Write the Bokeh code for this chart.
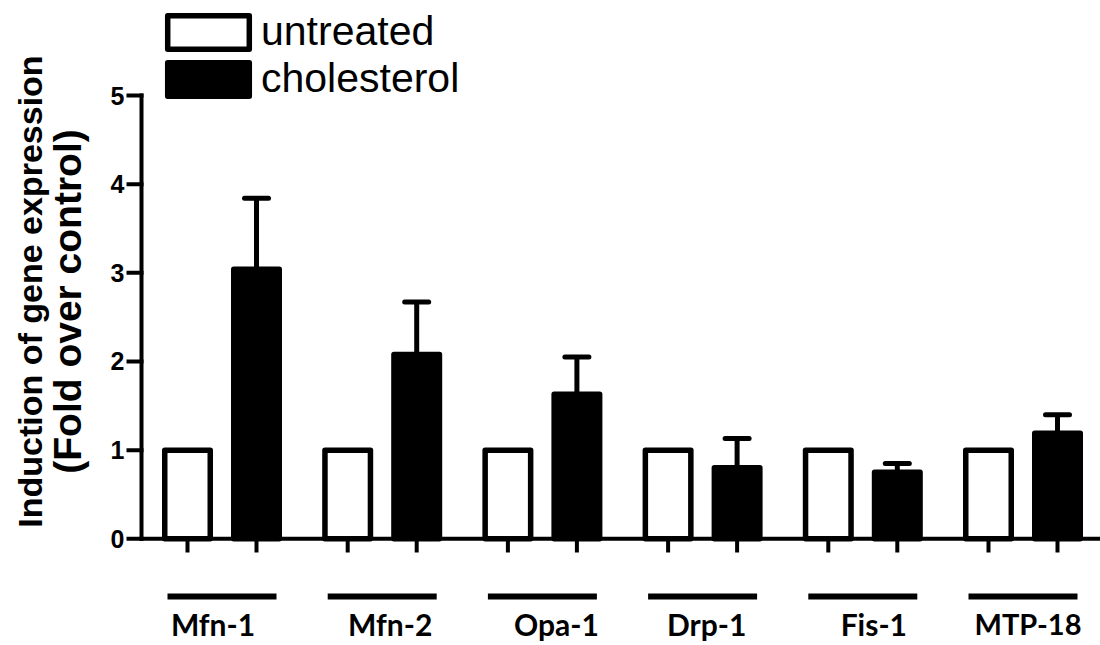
import numpy as np
from bokeh.plotting import figure
from bokeh.models import Range1d, ColumnDataSource, Legend, LegendItem
from bokeh.core.properties import value
from bokeh.embed import file_html
from bokeh.resources import INLINE

# ---------------- data ----------------
genes = ["Mfn-1", "Mfn-2", "Opa-1", "Drp-1", "Fis-1", "MTP-18"]
untreated = [1.0, 1.0, 1.0, 1.0, 1.0, 1.0]
cholesterol = [3.04, 2.08, 1.63, 0.80, 0.75, 1.19]
cholesterol_err = [0.80, 0.59, 0.42, 0.33, 0.10, 0.21]
series_names = ["untreated", "cholesterol"]
y_ticks = [0, 1, 2, 3, 4, 5]
y_tick_labels = ["0", "1", "2", "3", "4", "5"]
y_title = ["Induction of gene expression", "(Fold over control)"]

# ---------------- layout (reference pixel geometry) ----------------
W, H = 1100, 645
GX0, GDX = 221.5, 160.2      # px of first group centre, px per group
Y0, YDY = 538.3, 88.66       # px of value 0, px per unit


def X(px):
    return (px - GX0) / GDX


def Y(py):
    return (Y0 - py) / YDY


p = figure(width=W, height=H, x_range=Range1d(X(0), X(W)),
           y_range=Range1d(Y(H), Y(0)),
           x_axis_type=None, y_axis_type=None,
           output_backend="svg", toolbar_location=None, min_border=0)
p.grid.visible = False
p.outline_line_color = None
p.background_fill_color = "white"

n = len(genes)
gx = np.arange(n, dtype=float)
OFF = 34.5 / GDX
BW = 45.5 / GDX
CAP = 12.0 / GDX
chol = np.array(cholesterol)
hi = chol + np.array(cholesterol_err)

src = ColumnDataSource(dict(
    x_u=gx - OFF, x_c=gx + OFF, u=untreated, c=cholesterol, hi=hi,
    cap0=gx + OFF - CAP, cap1=gx + OFF + CAP,
))

LW = 5.5
# error bars (upper only)
p.segment(x0="x_c", y0="c", x1="x_c", y1="hi", source=src,
          line_color="black", line_width=5)
p.segment(x0="cap0", y0="hi", x1="cap1", y1="hi", source=src,
          line_color="black", line_width=5, line_cap="round")

r_u = p.vbar(x="x_u", top="u", bottom=0, width=BW, source=src,
             fill_color="white", line_color="black", line_width=LW,
             line_join="round")
r_c = p.vbar(x="x_c", top="c", bottom=0, width=BW, source=src,
             fill_color="black", line_color="black", line_width=LW,
             line_join="round")

# ---------------- y axis ----------------
AX = X(141)
p.segment(x0=[AX], y0=[min(y_ticks)], x1=[AX], y1=[max(y_ticks)],
          line_color="black", line_width=4, line_cap="square")
p.segment(x0=[X(128)] * len(y_ticks), y0=y_ticks, x1=[AX] * len(y_ticks),
          y1=y_ticks, line_color="black", line_width=4, line_cap="square")
p.text(x=[X(124)] * len(y_ticks), y=y_ticks, text=y_tick_labels,
       text_align="right", text_baseline="middle",
       text_font=value("Liberation Sans"), text_font_style="bold",
       text_font_size="25px", text_color="black")

ttl_src = ColumnDataSource(dict(x=[X(29), X(67)], y=[Y(291), Y(301)],
                                text=y_title, size=["34px", "39px"]))
p.text(x="x", y="y", text="text", text_font_size="size", source=ttl_src,
       angle=np.pi / 2, text_align="center", text_baseline="middle",
       text_font=value("Liberation Sans"), text_font_style="bold",
       text_color="black")

# ---------------- x axis ----------------
p.segment(x0=[AX], y0=[0], x1=[X(W + 20)], y1=[0],
          line_color="black", line_width=4, line_cap="square")
xt = np.concatenate([gx - OFF, gx + OFF])
p.segment(x0=xt, y0=[0] * len(xt), x1=xt, y1=[Y(552)] * len(xt),
          line_color="black", line_width=4)

# group underlines and labels
HL = 54.5 / GDX
p.segment(x0=gx - HL, y0=[Y(596)] * n, x1=gx + HL, y1=[Y(596)] * n,
          line_color="black", line_width=6)
label_dx = [-9, 8, 14, 4, 11, 5]
label_size = ["30px", "30px", "30px", "30px", "30px", "29px"]
lab_src = ColumnDataSource(dict(x=gx, y=[Y(623)] * n, text=genes,
                                dx=label_dx, size=label_size))
p.text(x="x", y="y", text="text", x_offset="dx", text_font_size="size",
       source=lab_src, text_align="center", text_baseline="middle",
       text_font=value("Lato"), text_font_style="bold", text_color="black")

# ---------------- legend ----------------
leg_kw = dict(glyph_width=102, glyph_height=42,
              label_text_font="Liberation Sans", label_text_font_size="41px",
              label_text_color="black", padding=0, margin=0, spacing=0,
              label_standoff=2, border_line_color=None,
              background_fill_alpha=0)
leg1 = Legend(items=[LegendItem(label=series_names[0], renderers=[r_u])],
              location=(157, H - 55), **leg_kw)
leg2 = Legend(items=[LegendItem(label=series_names[1], renderers=[r_c])],
              location=(157, H - 102), **leg_kw)
p.add_layout(leg1)
p.add_layout(leg2)

open("out.html", "w").write(file_html(p, INLINE))
